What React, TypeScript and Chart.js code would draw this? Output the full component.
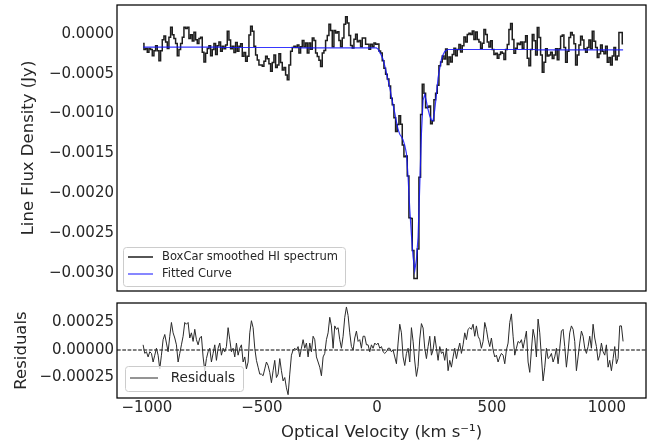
import React, { useEffect, useRef } from 'react';
import { Chart, registerables } from 'chart.js';

Chart.register(...registerables);

// ---- data -------------------------------------------------------------
// channel grid of the boxcar-smoothed spectrum (km/s)
const CHANNEL_START_KMS = -1016.5;
const CHANNEL_WIDTH_KMS = 7.246;
// values below are in units of 1e-5 Jy
const FLUX_UNIT = 1e-5;

// fitted curve, one value per channel
const FIT_CURVE = [
  -16.5, -16.5, -16.5, -16.5, -16.5, -16.5, -16.5, -16.5, -16.5, -16.5,
  -16.5, -16.5, -16.5, -16.5, -16.5, -16.5, -16.5, -16.5, -16.5, -16.5,
  -16.5, -16.5, -16.5, -16.5, -16.5, -16.5, -16.5, -16.5, -16.5, -16.5,
  -16.5, -16.5, -16.5, -16.5, -16.5, -16.5, -16.5, -16.5, -16.5, -16.5,
  -16.5, -16.5, -16.5, -16.5, -16.5, -16.5, -16.5,
  -17, -17, -17, -17, -17, -17, -17, -17, -17, -17,
  -17, -17, -17, -17, -17, -17, -17, -17, -17, -17,
  -17, -17, -17, -17, -17, -17, -17, -17, -17, -17,
  -17, -17, -17, -17, -17, -17, -17, -17, -17, -17,
  -17, -17, -17, -17, -17, -17, -17,
  -17.5, -17.5, -17.5, -17.5, -17.5, -17.5, -17.5, -17.5, -17.5, -17.5,
  -17.5, -17.5, -17.5, -17.5, -17.5, -17.5, -17.5, -17.5, -17.5, -17.5,
  -17.5, -17.5, -17.5, -17.5, -17.5, -17.5, -17.5, -17.5, -17.5, -17.5,
  -17.5, -17.5, -17.5, -17.5, -17.5, -17.5, -17.5, -17.5, -17.5, -17.5,
  -17.5, -17.5, -17.5, -17.5, -17.5, -17.5,
  -17.5, -19, -23, -27, -32, -40, -49, -58, -67, -79,
  -89, -99, -110, -120, -126, -129, -133, -140, -150, -180,
  -220, -252, -280, -297, -283, -255, -190, -125, -83, -76,
  -85, -95, -103, -108, -109, -95, -76, -55, -43, -32,
  -26, -22, -20.5,
  -19.5, -19.5, -19.5, -19.5, -19.5, -19.5, -19.5, -19.5, -19.5, -19.5,
  -19.5, -19.5, -19.5, -19.5, -19.5, -19.5, -19.5, -19.5, -19.5, -19.5,
  -19.5, -19.5, -19.5, -19.5, -19.5, -19.5, -19.5, -19.5, -19.5, -19.5,
  -19.5, -19.5, -19.5, -19.5, -19.5, -19.5, -19.5, -19.5, -19.5, -19.5,
  -19.5, -19.5, -19.5, -19.5, -19.5, -19.5, -19.5, -19.5, -19.5, -19.5,
  -19.5, -19.5, -19.5,
  -20, -20, -20, -20, -20, -20, -20, -20, -20, -20,
  -20, -20, -20, -20, -20, -20, -20, -20, -20, -20,
  -20, -20, -20, -20, -20, -20, -20, -20, -20, -20,
  -20, -20, -20, -20, -20, -20, -20, -20, -20, -20,
  -20, -20, -20, -20, -20, -20, -20, -20, -20, -20,
  -20, -20, -20,
];

// residuals (spectrum - fit), one value per channel
const RESIDUALS = [
  4.7, -3.1, -1.6, -6.3, -1.6, -3.1, -10.9, -4.7, 1.6, -4.7,
  -17.2, -4.7, 9.4, 14.1, 6.3, -1.6, 12.5, 25, 15.6, 10.9,
  4.7, -10.9, -3.1, 4.7, 12.5, 25, 23.4, 25, 10.9, 15.6,
  7.8, 18.8, 9.4, 4.7, 10.9, 12.5, -6.3, -18.8, -7.8, -1.6,
  1.6, -10.9, -3.1, 4.7, -9.4, 1.6, 6.3, -4.7, 1.6, -1.6,
  3.1, 20.3, 9.4, -1.6, 1.6, -6.3, 6.3, -4.7, 1.6, 4.7,
  -10.9, -6.3, -17.2, -10.9, 15.6, 26.6, 20.3, 1.6, -9.4, -15.6,
  -21.9, -21.9, -23.4, -17.2, -10.9, -14.1, -20.3, -29.7, -18.8, -9.4,
  -25, -21.9, -7.8, -18.8, -28.1, -25, -34.4, -40.6, -21.9, -4.7,
  0, 1.6, 0, 3.1, -6.3, 1.6, 9.4, 1.6, 6.3, -6.3,
  6.3, -1.6, 12.5, 9.4, -6.3, -10.9, -15.6, -23.4, -6.3, -3.1,
  9.4, 15.6,
  29.7, 21.9, 1.6, 21.9, 18.8, 20.3, 9.4, 1.6, 12.5, 29.7,
  39.1, 31.3, 15.6, 3.1, 0, 10.9, 17.2, 7.8, 9.4, 1.6,
  12.5, 12.5, 4.7, 4.7, -1.6, 4.7, 1.6, 6.3, 4.7, 6.3,
  1.6, 3.1, -1.6, -3.1, -1.6, 1.6, 1.6, -1.6, 0, -6.3,
  -12.5, 6.3, 23.4, 15.6, -6.3, -14.1, -3.1, 1.6, -10.9, 20.3,
  8, -10, -24, -15, 10, 24, 20, 1.6, -7.8, 3.1,
  12.5, -4.7, 0, 12.5, 1.6, -9.4, 3.1, -3.1, -1.6, -9.4,
  1.6, -18.8, -9.4, -15.6, -6.3, 1.6, -7.8, 0, 6.3, -3.1,
  4.7, 15.6, 9.4, 18.8, 20.3, 18.8, 23.4, 12.5, 21.9, 12.5,
  9.4, 1.6, 7.8, 25, 18.8, 9.4, 3.1, 10.9, 0, -6.3,
  -4.7, -10.9, -6.3, -3.1, -4.7, -12.5, 0, 6.3, 25, 32.8,
  12.5, -4.7, 1.6, 7.8, 6.3, 9.4, 1.6, 9.4, 17.2, -10.9,
  -20.3, 0, 18.8, 10.9, -6.3, 28.1, 15.6, -6.3, -28.1, -15.6,
  1.6, -7.8, -6.3, -3.1, -10.9, -6.3, 1.6, -12.5, 1.6, 17.2,
  18.8, 3.1, -15.6, -1.6, 15.6, 21.9, 18.8, 7.8, -18.8, -6.3,
  6.3, 17.2, 12.5, 1.6, -3.1, 3.1, 12.5, 1.6, 23.4, 10.9,
  3.1, -9.4, -4.7, 6.3, -1.6, -4.7, 4.7, -15.6, -9.4, -18.8,
  -7.8, 3.1, -12.5, -7.8, 21.9, 21.9, 7.8,
];

const X_TICKS = [-1000, -500, 0, 500, 1000];
const FLUX_TICKS = [0, -0.0005, -0.001, -0.0015, -0.002, -0.0025, -0.003];
const RESID_TICKS = [0.00025, 0, -0.00025];

const X_RANGE = [-1130, 1170];
const FLUX_RANGE = [-0.003228, 0.000364];
const RESID_RANGE = [-0.000436, 0.000427];

// ---- derived tables ---------------------------------------------------
const velocity = RESIDUALS.map((_, i) => CHANNEL_START_KMS + i * CHANNEL_WIDTH_KMS);
const fitPts = FIT_CURVE.map((v, i) => ({ x: velocity[i], y: v * FLUX_UNIT }));
const residPts = RESIDUALS.map((v, i) => ({ x: velocity[i], y: v * FLUX_UNIT }));
const specPts = FIT_CURVE.map((v, i) => ({ x: velocity[i], y: (v + RESIDUALS[i]) * FLUX_UNIT }));

const FONT = "'DejaVu Sans', 'Liberation Sans', sans-serif";
const TEXT = '#262626';

function fmt(v: number, digits: number) {
  const s = Math.abs(v) < 1e-12 ? (0).toFixed(digits) : v.toFixed(digits);
  return s.replace('-', '\u2212');
}

const framePlugin = {
  id: 'frame',
  afterDatasetsDraw(chart: any) {
    const { ctx, chartArea: a } = chart;
    ctx.save();
    ctx.strokeStyle = '#000';
    ctx.lineWidth = 1.25;
    ctx.strokeRect(a.left, a.top, a.right - a.left, a.bottom - a.top);
    ctx.restore();
  },
};

type LegendItem = { label: string; color: string; width: number };
function insetLegend(cfg: {
  id: string; items: LegendItem[]; dx: number; dy: number; w: number; h: number;
  rowTop: number; rowH: number; lineX0: number; lineX1: number; textX: number; fontSize: number;
}) {
  return {
    id: cfg.id,
    afterDraw(chart: any) {
      const { ctx, chartArea: a } = chart;
      const x = a.left + cfg.dx;
      const y = a.bottom - cfg.dy - cfg.h;
      ctx.save();
      ctx.beginPath();
      (ctx as any).roundRect(x + 0.5, y + 0.5, cfg.w, cfg.h, 3);
      ctx.fillStyle = 'rgba(255,255,255,0.8)';
      ctx.fill();
      ctx.strokeStyle = '#cccccc';
      ctx.lineWidth = 1;
      ctx.stroke();
      cfg.items.forEach((it, k) => {
        const cy = y + cfg.rowTop + k * cfg.rowH;
        ctx.beginPath();
        ctx.strokeStyle = it.color;
        ctx.lineWidth = it.width;
        ctx.moveTo(x + cfg.lineX0, cy);
        ctx.lineTo(x + cfg.lineX1, cy);
        ctx.stroke();
        ctx.fillStyle = TEXT;
        ctx.font = `${cfg.fontSize}px ${FONT}`;
        ctx.textBaseline = 'middle';
        ctx.textAlign = 'left';
        ctx.fillText(it.label, x + cfg.textX, cy);
      });
      ctx.restore();
    },
  };
}

const SPEC_COLOR = '#1e1e1e';
const FIT_COLOR = 'rgba(20,20,255,0.85)';
const RESID_COLOR = '#2a2a2a';

export default function App() {
  const topRef = useRef<HTMLCanvasElement>(null);
  const botRef = useRef<HTMLCanvasElement>(null);

  useEffect(() => {
    const yAfterFit = (w: number) => (s: any) => {
      s.width = w;
      s.paddingTop = 0;
      s.paddingBottom = 0;
    };

    const top = new Chart(topRef.current as HTMLCanvasElement, {
      type: 'line',
      data: {
        datasets: [
          {
            label: 'Fitted Curve',
            data: fitPts,
            borderColor: FIT_COLOR,
            borderWidth: 1.2,
            pointRadius: 0,
            tension: 0,
          },
          {
            label: 'BoxCar smoothed HI spectrum',
            data: specPts,
            borderColor: SPEC_COLOR,
            borderWidth: 1.5,
            pointRadius: 0,
            stepped: 'middle',
          },
        ],
      },
      options: {
        animation: false,
        responsive: false,
        devicePixelRatio: 1,
        layout: { padding: { top: 5, right: 14, bottom: 5, left: 0 } },
        plugins: { legend: { display: false }, tooltip: { enabled: false } },
        scales: {
          x: { type: 'linear', display: false, min: X_RANGE[0], max: X_RANGE[1] },
          y: {
            type: 'linear',
            min: FLUX_RANGE[0],
            max: FLUX_RANGE[1],
            afterBuildTicks: (s: any) => { s.ticks = FLUX_TICKS.map((v) => ({ value: v })); },
            afterFit: yAfterFit(117),
            grid: { display: false, drawTicks: false },
            border: { display: false },
            ticks: {
              padding: 3,
              color: TEXT,
              font: { family: FONT, size: 15 },
              callback: (v: any) => fmt(Number(v), 4),
            },
            title: {
              display: true,
              text: 'Line Flux Density (Jy)',
              color: TEXT,
              font: { family: FONT, size: 16.5 },
              padding: { top: 19, bottom: 0 },
            },
          },
        },
      } as any,
      plugins: [
        framePlugin,
        insetLegend({
          id: 'legTop',
          items: [
            { label: 'BoxCar smoothed HI spectrum', color: SPEC_COLOR, width: 1.5 },
            { label: 'Fitted Curve', color: FIT_COLOR, width: 1.2 },
          ],
          dx: 6, dy: 5, w: 222, h: 39, rowTop: 10, rowH: 17,
          lineX0: 5, lineX1: 30, textX: 39, fontSize: 11.5,
        }),
      ],
    });

    const bot = new Chart(botRef.current as HTMLCanvasElement, {
      type: 'line',
      data: {
        datasets: [
          {
            label: 'Residuals',
            data: residPts,
            borderColor: RESID_COLOR,
            borderWidth: 1,
            pointRadius: 0,
            tension: 0,
          },
          {
            label: 'zero',
            data: [{ x: X_RANGE[0], y: 0 }, { x: X_RANGE[1], y: 0 }],
            borderColor: '#000',
            borderWidth: 1,
            borderDash: [3.7, 1.6],
            pointRadius: 0,
          },
        ],
      },
      options: {
        animation: false,
        responsive: false,
        devicePixelRatio: 1,
        layout: { padding: { top: 7, right: 14, bottom: 0, left: 0 } },
        plugins: { legend: { display: false }, tooltip: { enabled: false } },
        scales: {
          x: {
            type: 'linear',
            min: X_RANGE[0],
            max: X_RANGE[1],
            afterBuildTicks: (s: any) => { s.ticks = X_TICKS.map((v) => ({ value: v })); },
            afterFit: (s: any) => { s.height = 49; s.paddingLeft = 0; s.paddingRight = 0; },
            grid: { display: false, drawTicks: false },
            border: { display: false },
            ticks: {
              padding: 1,
              maxRotation: 0,
              color: TEXT,
              font: { family: FONT, size: 15 },
              callback: (v: any) => fmt(Number(v), 0),
            },
            title: {
              display: true,
              text: 'Optical Velocity (km s\u207B\u00B9)',
              color: TEXT,
              font: { family: FONT, size: 16.5 },
              padding: { top: 0, bottom: 4 },
            },
          },
          y: {
            type: 'linear',
            min: RESID_RANGE[0],
            max: RESID_RANGE[1],
            afterBuildTicks: (s: any) => { s.ticks = RESID_TICKS.map((v) => ({ value: v })); },
            afterFit: yAfterFit(117),
            grid: { display: false, drawTicks: false },
            border: { display: false },
            ticks: {
              padding: 3,
              color: TEXT,
              font: { family: FONT, size: 15 },
              callback: (v: any) => fmt(Number(v), 5),
            },
            title: {
              display: true,
              text: 'Residuals',
              color: TEXT,
              font: { family: FONT, size: 16.5 },
              padding: { top: 11.6, bottom: 0 },
            },
          },
        },
      } as any,
      plugins: [
        framePlugin,
        insetLegend({
          id: 'legBot',
          items: [{ label: 'Residuals', color: RESID_COLOR, width: 1 }],
          dx: 8, dy: 7, w: 118, h: 25, rowTop: 12, rowH: 17,
          lineX0: 5, lineX1: 33, textX: 45.7, fontSize: 13.6,
        }),
      ],
    });

    return () => {
      top.destroy();
      bot.destroy();
    };
  }, []);

  return (
    <div style={{ position: 'absolute', left: 0, top: 0, width: 660, height: 447, background: '#fff' }}>
      <canvas ref={topRef} width={660} height={296} style={{ position: 'absolute', left: 0, top: 0 }} />
      <canvas ref={botRef} width={660} height={151} style={{ position: 'absolute', left: 0, top: 296 }} />
    </div>
  );
}
